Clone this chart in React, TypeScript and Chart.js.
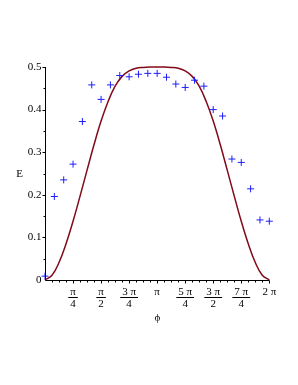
import React, { useEffect, useRef } from "react";
import { Chart, registerables } from "chart.js";

Chart.register(...registerables);

// Measured points: phi in multiples of pi/12
const scatterPhiTwelfths = [0, 1, 2, 3, 4, 5, 6, 7, 8, 9, 10, 11, 12, 13, 14, 15, 16, 17, 18, 19, 20, 21, 22, 23, 24];
const scatterE = [0.009, 0.196, 0.235, 0.272, 0.372, 0.458, 0.424, 0.458, 0.48, 0.477, 0.483, 0.485, 0.485, 0.476, 0.46, 0.452, 0.469, 0.455, 0.4, 0.385, 0.284, 0.276, 0.214, 0.141, 0.138];

// Theory curve: phi in multiples of pi/16
const curvePhiSixteenths = [0, 1, 2, 3, 4, 5, 6, 7, 8, 9, 10, 11, 12, 13, 14, 15, 16, 17, 18, 19, 20, 21, 22, 23, 24, 25, 26, 27, 28, 29, 30, 31, 32];
const curveE = [0, 0.011, 0.041, 0.085, 0.138, 0.197, 0.258, 0.318, 0.373, 0.419, 0.455, 0.478, 0.491, 0.497, 0.499, 0.5, 0.5, 0.5, 0.499, 0.497, 0.491, 0.478, 0.455, 0.419, 0.373, 0.318, 0.258, 0.197, 0.138, 0.085, 0.041, 0.011, 0];

// Tick labels
const xTickQuarters = [1, 2, 3, 4, 5, 6, 7, 8];
const xTickNumerators = ["π", "π", "3 π", "π", "5 π", "3 π", "7 π", "2 π"];
const xTickDenominators = ["4", "2", "4", "", "4", "2", "4", ""];
const yTickValues = [0, 0.1, 0.2, 0.3, 0.4, 0.5];
const yTickLabels = ["0", "0.1", "0.2", "0.3", "0.4", "0.5"];
const xAxisTitle = "ϕ";
const yAxisTitle = "E";

const SERIF = '"Liberation Serif", "DejaVu Serif", serif';

const axesPlugin = {
  id: "mapleAxes",
  afterDatasetsDraw(chart: any) {
    const { ctx } = chart;
    const xs = chart.scales.x;
    const ys = chart.scales.y;
    const left = Math.round(xs.getPixelForValue(0)) + 0.5;
    const right = xs.getPixelForValue(2 * Math.PI);
    const bottom = Math.round(ys.getPixelForValue(0)) + 0.5;
    const top = ys.getPixelForValue(0.5);
    ctx.save();
    ctx.strokeStyle = "#000";
    ctx.lineWidth = 1;
    ctx.beginPath();
    ctx.moveTo(left, top);
    ctx.lineTo(left, bottom);
    ctx.lineTo(right, bottom);
    ctx.stroke();
    // x ticks (minor every pi/16)
    ctx.beginPath();
    for (let i = 1; i <= 32; i++) {
      const px = Math.round(xs.getPixelForValue((i * Math.PI) / 16)) + 0.5;
      const len = i % 4 === 0 ? 3 : 2;
      ctx.moveTo(px, bottom);
      ctx.lineTo(px, bottom + len);
    }
    // y ticks (minor every 0.05)
    for (let i = 1; i <= 10; i++) {
      const py = Math.round(ys.getPixelForValue(i * 0.05)) + 0.5;
      const len = i % 2 === 0 ? 3 : 2;
      ctx.moveTo(left, py);
      ctx.lineTo(left - len, py);
    }
    ctx.stroke();

    ctx.fillStyle = "#000";
    ctx.font = `11px ${SERIF}`;
    ctx.textAlign = "right";
    ctx.textBaseline = "middle";
    yTickValues.forEach((v, i) => {
      ctx.fillText(yTickLabels[i], left - 4, ys.getPixelForValue(v));
    });

    ctx.textAlign = "center";
    xTickQuarters.forEach((q, i) => {
      const px = xs.getPixelForValue((q * Math.PI) / 4);
      const num = xTickNumerators[i];
      const den = xTickDenominators[i];
      if (den) {
        ctx.fillText(num, px, bottom + 12);
        const w = ctx.measureText(num).width + 4;
        ctx.beginPath();
        ctx.moveTo(px - w / 2, bottom + 17);
        ctx.lineTo(px + w / 2, bottom + 17);
        ctx.stroke();
        ctx.fillText(den, px, bottom + 24);
      } else {
        ctx.fillText(num, px, bottom + 12);
      }
    });

    ctx.font = `11px ${SERIF}`;
    ctx.fillText(xAxisTitle, (left + right) / 2, bottom + 38);
    ctx.fillText(yAxisTitle, 19.5, (top + bottom) / 2);
    ctx.restore();
  },
};

export default function App() {
  const ref = useRef<HTMLCanvasElement | null>(null);
  useEffect(() => {
    if (!ref.current) return;
    const chart = new Chart(ref.current, {
      type: "scatter",
      data: {
        datasets: [
          {
            label: "data",
            data: scatterPhiTwelfths.map((k, i) => ({ x: (k * Math.PI) / 12, y: scatterE[i] })),
            pointStyle: "cross",
            pointRadius: 3.5,
            pointBorderWidth: 1,
            pointBorderColor: "rgb(30,30,255)",
            borderColor: "rgb(30,30,255)",
            showLine: false,
            clip: false,
            order: 0,
          } as any,
          {
            label: "theory",
            data: curvePhiSixteenths.map((k, i) => ({ x: (k * Math.PI) / 16, y: curveE[i] })),
            showLine: true,
            borderColor: "rgb(128,10,25)",
            borderWidth: 1.5,
            pointRadius: 0,
            tension: 0.4,
            clip: false,
            order: 1,
          } as any,
        ],
      },
      options: {
        animation: false,
        responsive: false,
        layout: { padding: { left: 45, top: 67, right: 28.7, bottom: 105 } },
        plugins: { legend: { display: false }, tooltip: { enabled: false } },
        scales: {
          x: { type: "linear", display: false, min: 0, max: 2 * Math.PI },
          y: { type: "linear", display: false, min: 0, max: 0.5 },
        },
      },
      plugins: [axesPlugin],
    });
    return () => chart.destroy();
  }, []);
  return (
    <div style={{ position: "absolute", left: 0, top: 0, width: 298, height: 385, background: "#fff" }}>
      <canvas ref={ref} width={298} height={385} style={{ display: "block" }} />
    </div>
  );
}
